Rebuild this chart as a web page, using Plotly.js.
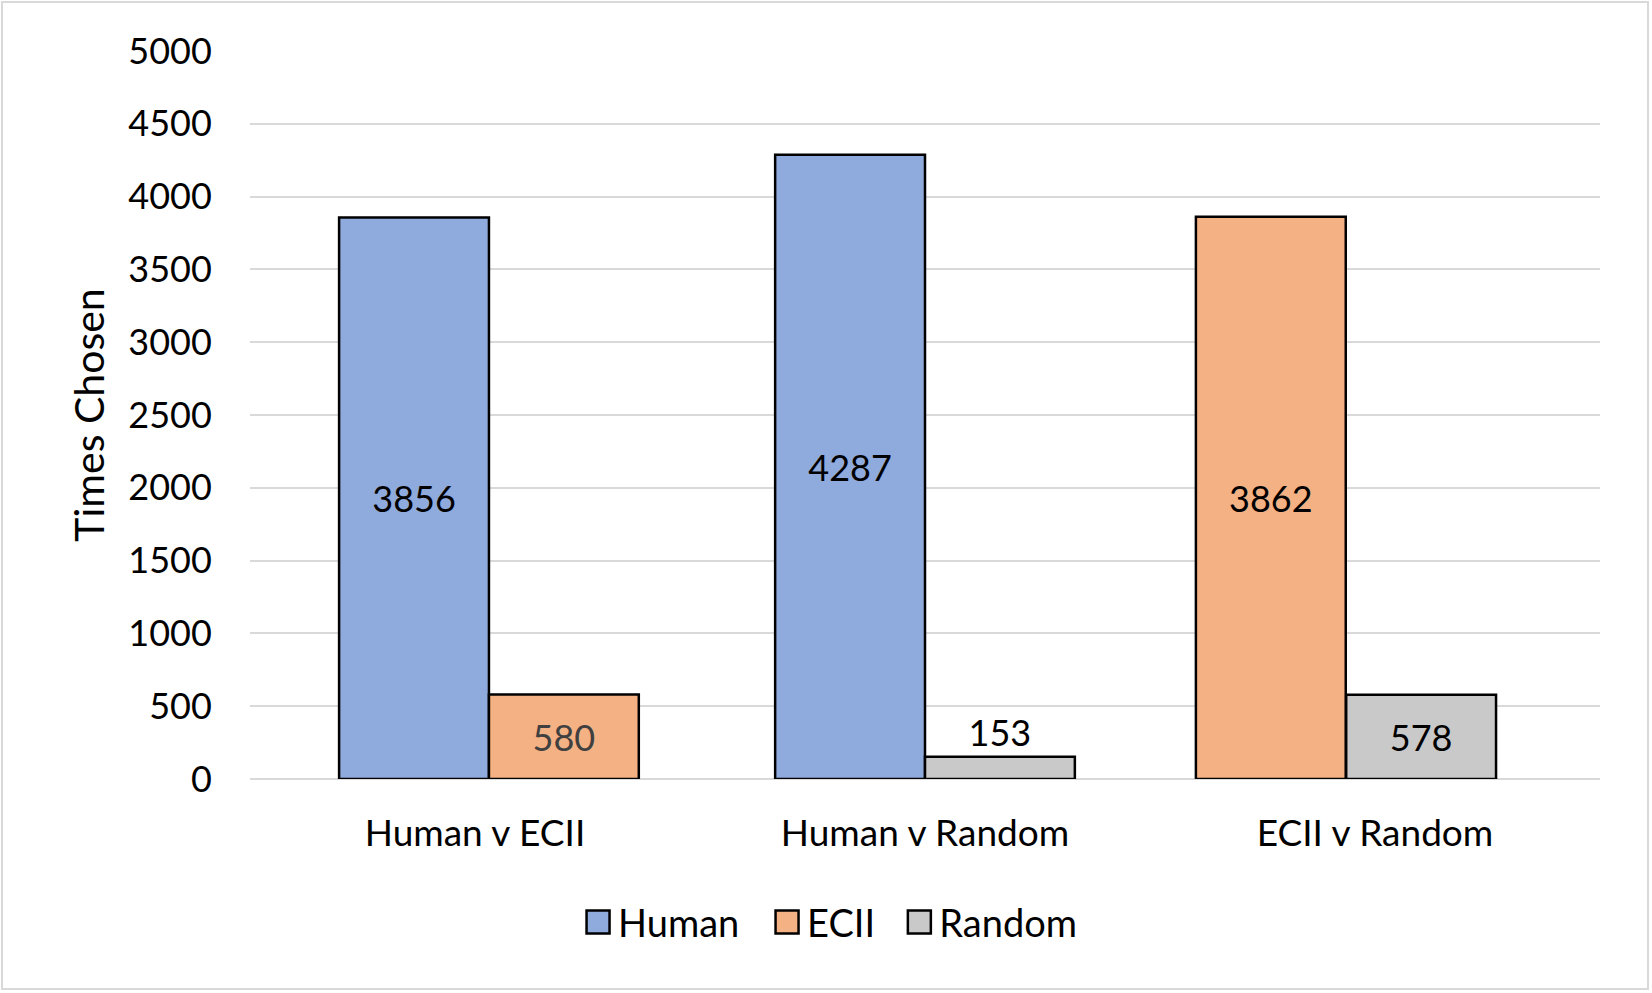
<!DOCTYPE html>
<html>
<head>
<meta charset="utf-8">
<script src="https://cdn.plot.ly/plotly-3.0.1.min.js"></script>
<style>
  html, body { margin: 0; padding: 0; background: #fff; }
  #chart { width: 1652px; height: 993px; }
</style>
</head>
<body>
<div id="chart"></div>
<script>
const categories = ['Human v ECII', 'Human v Random', 'ECII v Random'];

const humanCats = ['Human v ECII', 'Human v Random'];
const humanValues = [3856, 4287];

const eciiCats = ['Human v ECII', 'ECII v Random'];
const eciiValues = [580, 3862];

const randomCats = ['Human v Random', 'ECII v Random'];
const randomValues = [153, 578];

const FONT = 'Lato, "Open Sans", sans-serif';
const barWidth = 0.333;
const outline = {color: '#000000', width: 2.5};

function barTrace(name, x, y, color, offset, textpos, textcolor, legendId) {
    return {
        type: 'bar',
        name: name,
        legend: legendId,
        x: x,
        y: y,
        width: barWidth,
        offset: offset,
        marker: {color: color, line: outline},
        text: y.map(String),
        textposition: textpos,
        insidetextanchor: 'middle',
        constraintext: 'none',
        textfont: {family: FONT, size: 36, color: textcolor},
        outsidetextfont: {family: FONT, size: 36, color: '#000000'},
        cliponaxis: false,
        hoverinfo: 'x+y'
    };
}

const data = [
    barTrace('Human', humanCats, humanValues, '#8faadc', [-0.302, -0.333], ['inside', 'inside'], ['#000000', '#000000'], 'legend'),
    barTrace('ECII', eciiCats, eciiValues, '#f4b183', [0.031, -0.398], ['inside', 'inside'], ['#404040', '#000000'], 'legend2'),
    barTrace('Random', randomCats, randomValues, '#c9c9c9', [0.0, -0.064], ['outside', 'inside'], ['#000000', '#000000'], 'legend3')
];

function legendAt(x) {
    return {
        orientation: 'h',
        x: x,
        xanchor: 'left',
        y: -0.197,
        yanchor: 'middle',
        bgcolor: 'rgba(0,0,0,0)',
        font: {family: FONT, size: 38, color: '#000000'}
    };
}

const layout = {
    width: 1652,
    height: 993,
    margin: {l: 250, r: 52, t: 51, b: 214},
    paper_bgcolor: '#ffffff',
    plot_bgcolor: '#ffffff',
    font: {family: FONT, size: 36, color: '#000000'},
    barmode: 'overlay',
    showlegend: true,
    legend: legendAt(0.243),
    legend2: legendAt(0.383),
    legend3: legendAt(0.481),
    xaxis: {
        type: 'category',
        categoryorder: 'array',
        categoryarray: categories,
        range: [-0.5, 2.5],
        showgrid: false,
        showline: false,
        zeroline: false,
        ticks: 'outside',
        ticklen: 22,
        tickcolor: 'rgba(0,0,0,0)',
        tickfont: {family: FONT, size: 37, color: '#000000'}
    },
    yaxis: {
        range: [0, 5000],
        dtick: 500,
        tick0: 0,
        showgrid: true,
        gridcolor: '#d9d9d9',
        gridwidth: 2,
        zeroline: true,
        zerolinecolor: '#d9d9d9',
        zerolinewidth: 2,
        showline: false,
        ticks: 'outside',
        ticklen: 30,
        tickcolor: 'rgba(0,0,0,0)',
        tickfont: {family: FONT, size: 36, color: '#000000'},
        title: {text: 'Times Chosen', font: {family: FONT, size: 41, color: '#000000'}, standoff: 10},
        automargin: true
    },
    shapes: [{
        type: 'rect',
        xref: 'paper',
        yref: 'paper',
        x0: (2 - 250) / 1350,
        x1: (1648 - 250) / 1350,
        y0: (779 - 989) / 728,
        y1: (779 - 2) / 728,
        line: {color: '#d9d9d9', width: 2},
        layer: 'below'
    }]
};

const config = {displayModeBar: false, responsive: false};

Plotly.newPlot('chart', data, layout, config).then(() => {
    // bigger legend swatches, like the original
    document.querySelectorAll('.legendpoints path').forEach(p => {
        p.setAttribute('d', 'M11.5,11.5H-11.5V-11.5H11.5Z');
        p.style.strokeWidth = '2.5px';
    });
});
</script>
</body>
</html>
